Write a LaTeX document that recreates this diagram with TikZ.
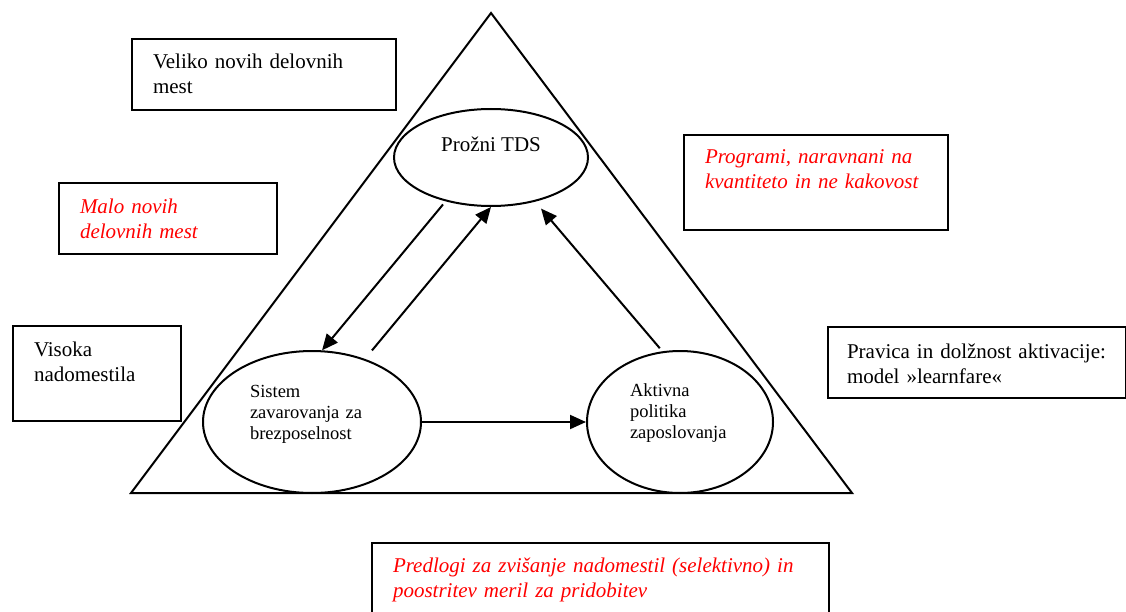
\documentclass[tikz,border=0pt]{standalone}
\usepackage{fontspec}
\setmainfont{Liberation Serif}
\usetikzlibrary{shapes.geometric,arrows.meta}

\newcommand{\boxfont}{\fontsize{21}{25}\selectfont}
\newcommand{\ovalfont}{\fontsize{18.5}{21}\selectfont}

\begin{document}
\begin{tikzpicture}[x=1pt, y=-1pt,
    >={Triangle[length=16pt,width=14pt]},
    box/.style={draw, line width=2pt, anchor=north west, align=left,
      inner xsep=21pt, inner ysep=0pt, font=\boxfont},
    redbox/.style={box, text=red, font=\boxfont\itshape},
    oval/.style={draw, ellipse, line width=2pt, inner sep=0pt},
    link/.style={->, line width=2pt}]

    \useasboundingbox (0,0) rectangle (1126,612);

    % Big triangle
    \draw[line width=2pt] (491,13) -- (852,493) -- (131,493) -- cycle;

    % --- Ovals inside the triangle ---
    \node[oval, minimum width=194pt, minimum height=97pt, font=\boxfont,
          align=center, text height=14pt, text depth=25.6pt]
      (tds) at (491,157.5) {Prožni TDS};
    \node[oval, minimum width=218pt, minimum height=142pt, font=\ovalfont,
          align=left, text width=124pt, text height=12.6pt, text depth=62.2pt]
      (sis) at (312,422) {Sistem\\ zavarovanja za\\ brezposelnost};
    \node[oval, minimum width=186pt, minimum height=142pt, font=\ovalfont,
          align=left, text width=100pt, text height=12.6pt, text depth=63.2pt]
      (akt) at (680,422) {Aktivna\\ politika\\ zaposlovanja};

    % Arrows between the ovals
    \draw[link, shorten <=4pt] (tds.224) -- (sis.82);
    \draw[link, shorten <=11pt] (sis.50.6) -- (tds.south);
    \draw[link, shorten <=4pt, shorten >=9pt] (akt.104) -- (tds.315.3);
    \draw[link] (sis.east) -- (akt.west);

    % --- Boxes around the triangle ---
    \node[box, text width=222pt, text height=30pt, text depth=41pt]
      (veliko) at (131,38) {Veliko novih delovnih\\ mest};
    \node[redbox, text width=176pt, text height=31pt, text depth=40pt]
      (malo) at (58,182) {Malo novih\\ delovnih mest};
    \node[box, text width=126pt, text height=30pt, text depth=65pt]
      (visoka) at (12,325) {Visoka\\ nadomestila};
    \node[redbox, text width=222pt, text height=29pt, text depth=66pt]
      (programi) at (683,134) {Programi, naravnani na\\ kvantiteto in ne kakovost};
    \node[box, inner xsep=19pt, text width=260pt, text height=31pt, text depth=40pt]
      (pravica) at (827,326) {Pravica in dolžnost aktivacije:\\ model »learnfare«};
    \node[redbox, text width=415pt, text height=29pt, text depth=110pt]
      (predlogi) at (371,542) {Predlogi za zvišanje nadomestil (selektivno) in\\ poostritev meril za pridobitev};

\end{tikzpicture}
\end{document}
